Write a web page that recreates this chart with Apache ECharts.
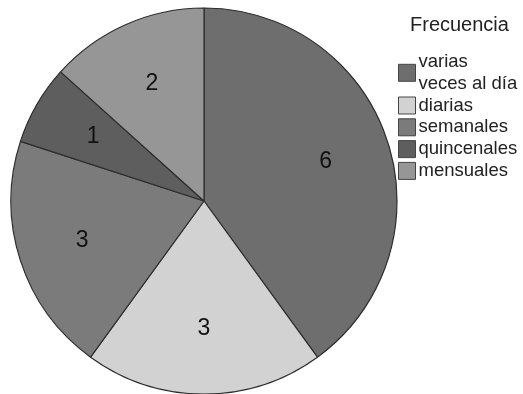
<!DOCTYPE html>
<html>
<head>
<meta charset="utf-8">
<script src="https://cdn.jsdelivr.net/npm/echarts@6/dist/echarts.min.js"></script>
<style>
  html, body { margin: 0; padding: 0; background: #fff; }
  #chart { width: 523px; height: 394px; }
</style>
</head>
<body>
<div id="chart"></div>
<script>
// Frecuencia de uso: número de respuestas por categoría
const categories = ['varias\nveces al día', 'diarias', 'semanales', 'quincenales', 'mensuales'];
const counts = [6, 3, 3, 1, 2];
const sliceColors = ['#6e6e6e', '#d2d2d2', '#7b7b7b', '#5e5e5e', '#969696'];
const legendTitle = 'Frecuencia';

const FONT = '"Liberation Sans", Arial, Helvetica, sans-serif';

const pieData = categories.map((name, i) => ({
  name: name,
  value: counts[i],
  itemStyle: { color: sliceColors[i] }
}));

const chart = echarts.init(document.getElementById('chart'), null, { renderer: 'canvas' });

chart.setOption({
  animation: false,
  backgroundColor: '#ffffff',
  title: {
    text: legendTitle,
    left: 405,
    top: 10,
    textStyle: { fontFamily: FONT, fontSize: 20, fontWeight: 'normal', color: '#222' }
  },
  legend: {
    orient: 'vertical',
    left: 393,
    top: 46,
    itemWidth: 17,
    itemHeight: 17,
    itemGap: 0,
    icon: 'rect',
    selectedMode: false,
    data: categories,
    itemStyle: { borderColor: '#444', borderWidth: 1 },
    textStyle: { fontFamily: FONT, fontSize: 18.5, lineHeight: 21.8, color: '#222', padding: [0, 0, 0, -2] }
  },
  series: [
    {
      // the pie itself
      type: 'pie',
      center: [204, 201],
      radius: [0, 193],
      startAngle: 90,
      clockwise: true,
      silent: true,
      label: { show: false },
      labelLine: { show: false },
      itemStyle: { borderColor: '#2e2e2e', borderWidth: 1.2 },
      data: pieData
    },
    {
      // transparent ring used only to place the value labels further out
      type: 'pie',
      center: [204, 201],
      radius: [0, 250],
      startAngle: 90,
      clockwise: true,
      silent: true,
      legendHoverLink: false,
      itemStyle: { color: 'rgba(0,0,0,0)', borderWidth: 0 },
      label: {
        show: true,
        position: 'inside',
        formatter: '{c}',
        fontFamily: FONT,
        fontSize: 23,
        color: '#111'
      },
      labelLine: { show: false },
      emphasis: { disabled: true },
      data: categories.map((name, i) => ({ name: name, value: counts[i] }))
    }
  ]
});
</script>
</body>
</html>
